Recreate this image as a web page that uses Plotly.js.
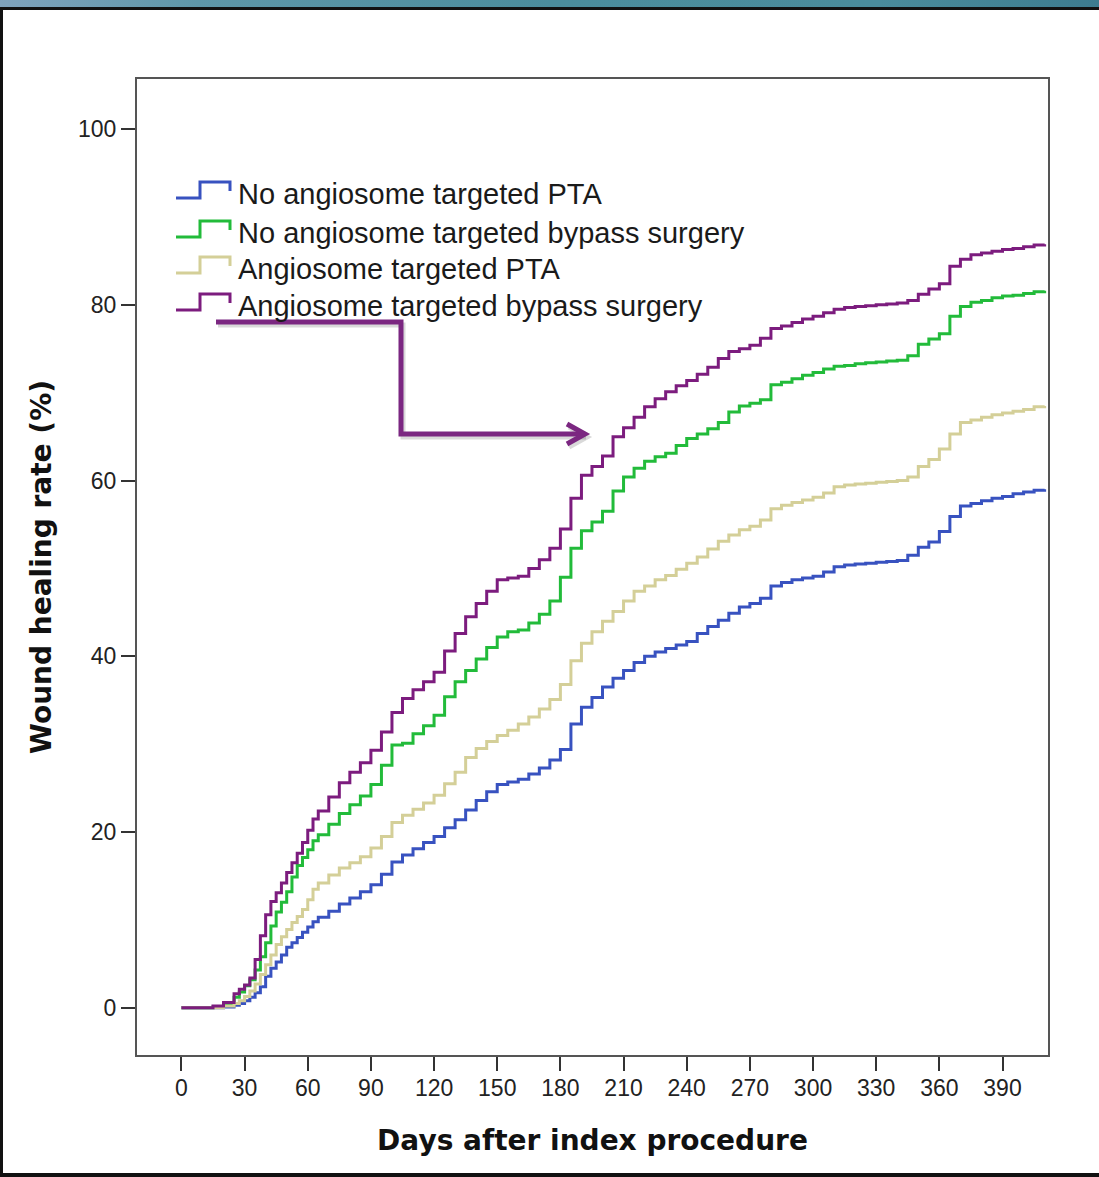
<!DOCTYPE html>
<html>
<head>
<meta charset="utf-8">
<script src="https://cdn.plot.ly/plotly-3.0.1.min.js"></script>
<style>
html,body{margin:0;padding:0;background:#fff;}
#wrap{position:relative;width:1099px;height:1177px;overflow:hidden;}
#chart{position:absolute;left:0;top:0;width:1099px;height:1177px;}
#topbar{position:absolute;left:0;top:0;width:1099px;height:7px;background:linear-gradient(to right,#7fa3bd 0%,#5e97a9 18%,#4b8d9d 50%,#4a8c9c 80%,#3d7c90 100%);z-index:5;}
#frame{position:absolute;left:0;top:7px;width:1099px;height:1170px;box-sizing:border-box;border-top:3px solid #111;border-left:3px solid #111;border-bottom:4px solid #111;z-index:5;pointer-events:none;}
</style>
</head>
<body>
<div id="wrap">
  <div id="chart"></div>
  <div id="topbar"></div>
  <div id="frame"></div>
</div>
<script>
// ---- data (days after index procedure, wound healing rate %) ----
const days = [0,5,10,15,20,25,27.5,30,32.5,35,37.5,40,42.5,45,47.5,50,52.5,55,57.5,60,62.5,
  65,70,75,80,85,90,95,100,105,110,
  115,120,125,130,135,140,145,150,155,160,
  165,170,175,180,185,190,195,200,205,210,
  215,220,225,230,235,240,245,250,255,260,
  265,270,275,280,285,290,295,300,305,310,
  315,320,325,330,335,340,345,350,355,360,
  365,370,375,380,385,390,395,400,405,410];

const noAngioPTA = [0,0,0,0,0.1,0.3,
  0.5,0.8,1.2,1.7,2.4,3.6,4.5,5.2,6,6.9,7.4,8,8.6,9.2,9.8,
  10.3,11,11.8,12.5,13.2,14,15.2,16.6,17.4,18.1,
  18.8,19.5,20.5,21.4,22.5,23.6,24.6,25.4,25.7,26,
  26.6,27.3,28.2,29.4,32.3,34.2,35.3,36.5,37.5,38.4,
  39.3,40,40.5,40.9,41.3,41.7,42.6,43.4,44.1,44.9,
  45.6,46,46.6,48,48.4,48.7,48.9,49.1,49.6,50.2,
  50.4,50.5,50.6,50.7,50.8,50.9,51.5,52.4,53,54.2,
  55.9,57.1,57.4,57.7,58,58.2,58.5,58.7,58.9,59];

const noAngioBypass = [0,0,0,0.1,0.4,1.2,
  1.8,2.5,3.2,4.3,5.8,7.4,9.3,10.9,12,13.2,14.9,16.2,17.1,18,19,
  19.7,20.9,22.1,23.1,24.1,25.4,27.6,29.9,30.1,31.2,
  32.1,33.3,35.4,37.1,38.4,39.7,41,42.2,42.8,43,
  43.8,44.8,46.3,49,52.3,54.3,55.3,56.5,58.8,60.4,
  61.4,62.2,62.7,63.1,64,64.8,65.3,65.9,66.6,67.8,
  68.5,68.8,69.2,70.9,71.2,71.6,72,72.3,72.7,73,
  73.1,73.3,73.4,73.5,73.6,73.7,74.2,75.5,76.1,76.7,
  78.7,79.8,80.3,80.5,80.8,81,81.1,81.3,81.5,81.6];

const angioPTA = [0,0,0,0,0.2,0.5,
  0.8,1.3,1.9,2.7,3.8,4.9,6,7.2,8.1,8.9,9.7,10.4,11.2,12.3,13.5,
  14.2,15.1,15.9,16.5,17.2,18.2,19.5,21.1,21.9,22.6,
  23.3,24.2,25.5,26.8,28.5,29.5,30.3,31,31.6,32.3,
  33.1,34,35.1,36.8,39.5,41.5,42.8,44,45.1,46.3,
  47.4,48,48.7,49.2,49.9,50.6,51.3,52.2,53.1,53.8,
  54.4,54.8,55.5,56.8,57.2,57.5,57.8,58.1,58.6,59.3,
  59.5,59.6,59.7,59.8,59.9,60,60.4,61.6,62.4,63.6,
  65.3,66.6,66.9,67.2,67.5,67.7,67.9,68.1,68.4,68.5];

const angioBypass = [0,0,0,0.2,0.6,1.6,
  2.1,2.6,3.4,5.5,8.2,10.6,12.1,13.1,14.2,15.4,16.5,17.6,18.8,20.2,21.5,
  22.4,24.0,25.6,26.8,27.9,29.3,31.4,33.6,35.2,36.2,
  37.1,38.2,40.6,42.6,44.5,46,47.4,48.7,48.9,49.1,
  50.0,51.0,52.3,54.5,58,60.6,61.6,62.8,65,66,
  67.2,68.4,69.3,70.1,70.8,71.4,72.1,72.9,73.9,74.7,
  75,75.4,76.2,77.3,77.6,78,78.4,78.7,79.1,79.5,
  79.7,79.8,79.9,80,80.1,80.2,80.5,81.2,81.8,82.4,
  84.4,85.2,85.7,85.9,86.1,86.3,86.4,86.6,86.8,86.9];

const seriesNames = ['No angiosome targeted PTA','No angiosome targeted bypass surgery','Angiosome targeted PTA','Angiosome targeted bypass surgery'];
const seriesValues = [noAngioPTA, noAngioBypass, angioPTA, angioBypass];
const seriesColors = ['#3852c0','#22bb3a','#d4cf98','#7c1c7e'];

const xTickVals = [0,30,60,90,120,150,180,210,240,270,300,330,360,390];
const yTickVals = [0,20,40,60,80,100];
const xTitle = 'Days after index procedure';
const yTitle = 'Wound healing rate (%)';

// ---- layout geometry (pixels) ----
const L = 137, R = 1048, T = 79, B = 1055;
const px = v => (v - L) / (R - L);
const py = v => (B - v) / (B - T);

const traces = seriesNames.map((n, i) => ({
  type: 'scatter', mode: 'lines', name: n,
  x: days, y: seriesValues[i],
  line: {shape: 'hv', width: 3, color: seriesColors[i]},
  showlegend: false, hoverinfo: 'x+y+name'
}));

const annotations = [];
const shapes = [];
const rows = [194, 233, 269, 306];
rows.forEach((c, i) => {
  annotations.push({
    xref: 'paper', yref: 'paper', x: px(236), y: py(c), xanchor: 'left', yanchor: 'middle',
    text: seriesNames[i], showarrow: false,
    font: {family: 'Liberation Sans, Arial, sans-serif', size: 29, color: '#1a1a1a'}
  });
  shapes.push({
    type: 'path', xref: 'paper', yref: 'paper',
    path: `M${px(176)},${py(c+4)} L${px(200)},${py(c+4)} L${px(200)},${py(c-12)} L${px(230)},${py(c-12)} L${px(230)},${py(c-3)}`,
    line: {color: seriesColors[i], width: 3}
  });
});

// annotation arrow (elbow) pointing at the angiosome-targeted bypass curve
const arrowColor = '#7b2781';
const shaft = (dx, dy) => `M${px(216+dx)},${py(322+dy)} L${px(401+dx)},${py(322+dy)} L${px(401+dx)},${py(434+dy)} L${px(584+dx)},${py(434+dy)}`;
const head = (dx, dy) => `M${px(567+dx)},${py(424+dy)} L${px(585+dx)},${py(434+dy)} L${px(567+dx)},${py(444+dy)}`;
shapes.push({type:'path', xref:'paper', yref:'paper', path: shaft(2,3), line:{color:'rgba(0,0,0,0.15)', width:5}});
shapes.push({type:'path', xref:'paper', yref:'paper', path: head(2,3), line:{color:'rgba(0,0,0,0.15)', width:5}});
shapes.push({type:'path', xref:'paper', yref:'paper', path: shaft(0,0), line:{color:arrowColor, width:5}});
shapes.push({type:'path', xref:'paper', yref:'paper', path: head(0,0), line:{color:arrowColor, width:5}});

const tickFont = {family: 'Liberation Sans, Arial, sans-serif', size: 23, color: '#222'};
const titleFont = {family: 'DejaVu Sans, Verdana, sans-serif', size: 28, color: '#111'};

const layout = {
  width: 1099, height: 1177,
  margin: {l: L, r: 1099 - R, t: T, b: 1177 - B, pad: 0},
  paper_bgcolor: '#fff', plot_bgcolor: '#fff',
  showlegend: false,
  xaxis: {
    range: [-21.1, 411.6], tickmode: 'array', tickvals: xTickVals, ticktext: xTickVals.map(String),
    ticks: 'outside', ticklen: 14, tickwidth: 2, tickcolor: '#333', ticklabelstandoff: -3,
    showline: true, mirror: true, linecolor: '#555', linewidth: 2,
    showgrid: false, zeroline: false, tickfont: tickFont, automargin: false,
    title: {text: '<b>' + xTitle + '</b>', font: titleFont, standoff: 31}
  },
  yaxis: {
    range: [-5.37, 105.7], tickmode: 'array', tickvals: yTickVals, ticktext: yTickVals.map(String),
    ticks: 'outside', ticklen: 14, tickwidth: 2, tickcolor: '#333',
    showline: true, mirror: true, linecolor: '#555', linewidth: 2,
    showgrid: false, zeroline: false, tickfont: tickFont, automargin: false,
    title: {text: '<b>' + yTitle + '</b>', font: titleFont, standoff: 18}
  },
  annotations: annotations,
  shapes: shapes
};

Plotly.newPlot('chart', traces, layout, {displayModeBar: false, staticPlot: true});
</script>
</body>
</html>
